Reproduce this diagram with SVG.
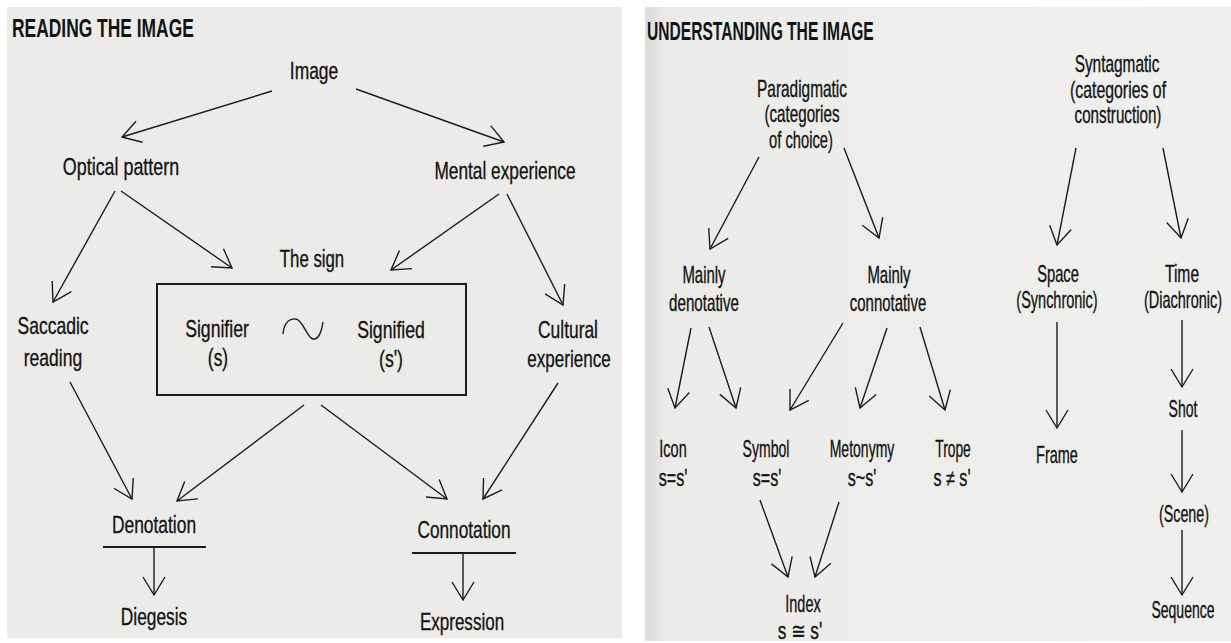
<svg xmlns="http://www.w3.org/2000/svg" width="1231" height="643" viewBox="0 0 1231 643">
<defs>
<linearGradient id="shade" x1="0" y1="0" x2="1" y2="0">
<stop offset="0" stop-color="#dadad8"/>
<stop offset="0.035" stop-color="#ebebe9"/>
<stop offset="1" stop-color="#efefed"/>
</linearGradient>
<marker id="ah" viewBox="-20 -12 22 24" refX="0" refY="0" markerWidth="22" markerHeight="24" markerUnits="userSpaceOnUse" orient="auto">
<path d="M-18,-11 L0,0 L-18,11" fill="none" stroke="#1c1c1c" stroke-width="1.4"/>
</marker>
</defs>
<style>
text{font-family:"Liberation Sans",Arial,"DejaVu Sans",sans-serif;fill:#141414;text-anchor:middle}
.l,.r{stroke:#141414;stroke-width:0.35}
.l{font-size:24px}
.r{font-size:23px}
.title{font-weight:bold;font-size:26px;text-anchor:start}
.c line{stroke:#1c1c1c;stroke-width:1.4;fill:none;marker-end:url(#ah)}
.rule{stroke:#1c1c1c;stroke-width:2;fill:none}
.wave{stroke:#1c1c1c;stroke-width:1.4;fill:none}
</style>
<rect width="1231" height="643" fill="#ffffff"/>
<rect x="7" y="7" width="615" height="631" fill="#ebebe9"/>
<rect x="645" y="7" width="586" height="634" fill="url(#shade)"/>

<!-- LEFT PANEL -->
<text class="title" transform="translate(12,37) scale(0.67,1)">READING THE IMAGE</text>

<g id="image"><text class="l" transform="translate(314,79) scale(0.725,1)">Image</text></g>
<g id="optical"><text class="l" transform="translate(121,175) scale(0.745,1)">Optical pattern</text></g>
<g id="mental"><text class="l" transform="translate(505,179) scale(0.72,1)">Mental experience</text></g>
<g id="thesign"><text class="l" transform="translate(312,267) scale(0.7,1)">The sign</text></g>
<g id="saccadic">
<text class="l" transform="translate(53,334) scale(0.73,1)">Saccadic</text>
<text class="l" transform="translate(53,366) scale(0.73,1)">reading</text>
</g>
<g id="cultural">
<text class="l" transform="translate(568,338) scale(0.725,1)">Cultural</text>
<text class="l" transform="translate(569,367) scale(0.71,1)">experience</text>
</g>
<g id="signbox">
<rect class="rule" x="157" y="284" width="309" height="111"/>
<text class="l" transform="translate(217,337) scale(0.735,1)">Signifier</text>
<text class="l" transform="translate(218,366) scale(0.725,1)">(s)</text>
<path class="wave" d="M283,334 C284,322 290,318 296,319 C303,320 307,338 313,339 C319,340 322,330 323,322"/>
<text class="l" transform="translate(391,338) scale(0.735,1)">Signified</text>
<text class="l" transform="translate(391,367) scale(0.735,1)">(s')</text>
</g>
<g id="denotation">
<text class="l" transform="translate(154,533) scale(0.725,1)">Denotation</text>
<line class="rule" x1="103" y1="547" x2="206" y2="547"/>
</g>
<g id="diegesis"><text class="l" transform="translate(154,625) scale(0.72,1)">Diegesis</text></g>
<g id="connotation">
<text class="l" transform="translate(464,538) scale(0.72,1)">Connotation</text>
<line class="rule" x1="412" y1="553" x2="516" y2="553"/>
</g>
<g id="expression"><text class="l" transform="translate(462,630) scale(0.71,1)">Expression</text></g>

<!-- RIGHT PANEL -->
<text class="title" transform="translate(647,40) scale(0.6,1)">UNDERSTANDING THE IMAGE</text>

<g id="paradigmatic">
<text class="r" transform="translate(802,97) scale(0.67,1)">Paradigmatic</text>
<text class="r" transform="translate(802,122) scale(0.66,1)">(categories</text>
<text class="r" transform="translate(801,148) scale(0.64,1)">of choice)</text>
</g>
<g id="syntagmatic">
<text class="r" transform="translate(1117,72) scale(0.67,1)">Syntagmatic</text>
<text class="r" transform="translate(1118,98) scale(0.69,1)">(categories of</text>
<text class="r" transform="translate(1118,123) scale(0.66,1)">construction)</text>
</g>
<g id="mainlyden">
<text class="r" transform="translate(704,283) scale(0.65,1)">Mainly</text>
<text class="r" transform="translate(704,311) scale(0.66,1)">denotative</text>
</g>
<g id="mainlycon">
<text class="r" transform="translate(889,283) scale(0.65,1)">Mainly</text>
<text class="r" transform="translate(888,311) scale(0.65,1)">connotative</text>
</g>
<g id="space">
<text class="r" transform="translate(1058,282) scale(0.64,1)">Space</text>
<text class="r" transform="translate(1057,308) scale(0.63,1)">(Synchronic)</text>
</g>
<g id="time">
<text class="r" transform="translate(1182,282) scale(0.68,1)">Time</text>
<text class="r" transform="translate(1183,308) scale(0.63,1)">(Diachronic)</text>
</g>
<g id="icon">
<text class="r" transform="translate(673,457) scale(0.63,1)">Icon</text>
<text class="r" transform="translate(673,486) scale(0.7,1)">s=s'</text>
</g>
<g id="symbol">
<text class="r" transform="translate(766,457) scale(0.61,1)">Symbol</text>
<text class="r" transform="translate(767,486) scale(0.7,1)">s=s'</text>
</g>
<g id="metonymy">
<text class="r" transform="translate(862,457) scale(0.61,1)">Metonymy</text>
<text class="r" transform="translate(862,486) scale(0.7,1)">s~s'</text>
</g>
<g id="trope">
<text class="r" transform="translate(953,457) scale(0.6,1)">Trope</text>
<text class="r" transform="translate(952,486) scale(0.7,1)">s ≠ s'</text>
</g>
<g id="frame"><text class="r" transform="translate(1057,463) scale(0.63,1)">Frame</text></g>
<g id="shot"><text class="r" transform="translate(1183,417) scale(0.61,1)">Shot</text></g>
<g id="scene"><text class="r" transform="translate(1184,522) scale(0.62,1)">(Scene)</text></g>
<g id="sequence"><text class="r" transform="translate(1183,618) scale(0.61,1)">Sequence</text></g>
<g id="index">
<text class="r" transform="translate(803,612) scale(0.63,1)">Index</text>
<text class="r" transform="translate(800,639) scale(0.75,1)">s ≅ s'</text>
</g>

<g id="connectors" class="c">
<line x1="272" y1="91" x2="122" y2="137"/>
<line x1="356" y1="89" x2="504" y2="142"/>
<line x1="115" y1="191" x2="53" y2="302"/>
<line x1="121" y1="191" x2="232" y2="268"/>
<line x1="499" y1="194" x2="391" y2="270"/>
<line x1="507" y1="194" x2="563" y2="305"/>
<line x1="70" y1="382" x2="132" y2="499"/>
<line x1="304" y1="405" x2="177" y2="501"/>
<line x1="321" y1="405" x2="447" y2="499"/>
<line x1="558" y1="383" x2="483" y2="499"/>
<line x1="154" y1="547" x2="154" y2="595"/>
<line x1="463" y1="553" x2="463" y2="600"/>
<line x1="759" y1="157" x2="710" y2="249"/>
<line x1="844" y1="148" x2="879" y2="238"/>
<line x1="1076" y1="148" x2="1057" y2="245"/>
<line x1="1163" y1="148" x2="1181" y2="238"/>
<line x1="691" y1="328" x2="675" y2="408"/>
<line x1="709" y1="327" x2="736" y2="408"/>
<line x1="843" y1="323" x2="790" y2="410"/>
<line x1="887" y1="328" x2="860" y2="408"/>
<line x1="920" y1="327" x2="945" y2="410"/>
<line x1="1057" y1="322" x2="1057" y2="428"/>
<line x1="1182" y1="320" x2="1182" y2="387"/>
<line x1="1182" y1="430" x2="1182" y2="492"/>
<line x1="1182" y1="530" x2="1182" y2="595"/>
<line x1="760" y1="500" x2="788" y2="577"/>
<line x1="839" y1="502" x2="815" y2="577"/>
</g>
</svg>
